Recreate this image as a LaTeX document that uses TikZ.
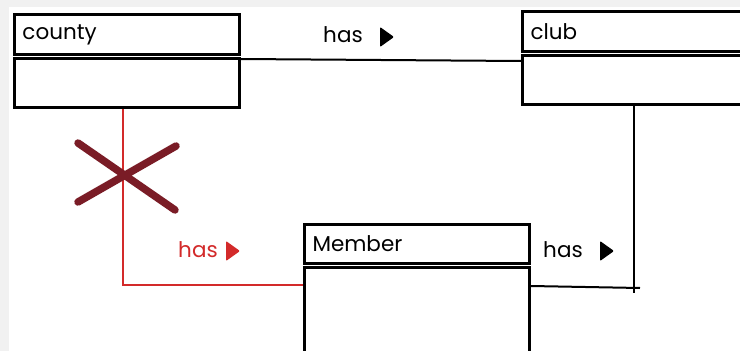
\documentclass[tikz,border=0pt]{standalone}
\usepackage{fontspec}
\setmainfont{Poppins}
\usetikzlibrary{calc}
\definecolor{hasred}{HTML}{D32A2A}
\definecolor{crossred}{HTML}{7A1C26}
\definecolor{canvas}{HTML}{F1F1F1}
\tikzset{
  head/.style={draw, line width=3pt, anchor=north west, minimum height=40pt,
    text width=209pt, inner xsep=8pt, align=left, font=\fontsize{21.5}{23}\selectfont},
  body/.style={draw, line width=3pt, anchor=north west, minimum width=225pt},
  link/.style={line width=2pt},
  redlink/.style={line width=1.8pt, draw=hasred},
  cross/.style={line width=7.5pt, draw=crossred, line cap=round},
  tag/.style={font=\fontsize{21.5}{23}\selectfont},
  playtip/.pic={\fill[rounded corners=1pt] (0,-10) -- (14,0) -- (0,10) -- cycle;}
}
\begin{document}
\begin{tikzpicture}[x=1pt,y=-1pt]
  % Canvas
  \fill[canvas] (0,0) rectangle (740,351);
  \fill[white] (9,7) rectangle (740,351);
  \useasboundingbox (0,0) rectangle (740,351);
  % Tables
  \node[head] (countyh) at (13,13) {county};
  \node[body, minimum height=49pt] (countyb) at (13,57) {};
  \node[head] (clubh) at (521,10) {club};
  \node[body, minimum height=49pt] (clubb) at (521,54) {};
  \node[head, minimum height=39pt] (memberh) at (303,223) {Member};
  \node[body, minimum height=120pt] (memberb) at (303,266) {};
  % Relations
  \draw[link] ($(countyb.north east)+(0,2)$) -- ($(clubb.north west)+(0,7)$);
  \node[tag] (hastop) at (343,35) {has};
  \pic at (380,37) {playtip};
  \coordinate (clubend) at (634,293);
  \coordinate (memberend) at (640,288);
  \draw[link] (clubb.south -| clubend) -- (clubend);
  \draw[link] ($(memberb.north east)+(0,20)$) -- (memberend);
  \node[tag] (hasright) at (563,250) {has};
  \pic at (600,251) {playtip};
  % Dropped relation
  \coordinate (redturn) at (123,285);
  \draw[redlink] (countyb.south -| redturn) -- (redturn) -- (redturn -| memberb.west);
  \node[tag, text=hasred] (hasleft) at (198,250) {has};
  \pic[hasred] at (226,251) {playtip};
  \draw[cross] (78,143) -- (175,210);
  \draw[cross] (176,146) -- (78,202);
\end{tikzpicture}
\end{document}
